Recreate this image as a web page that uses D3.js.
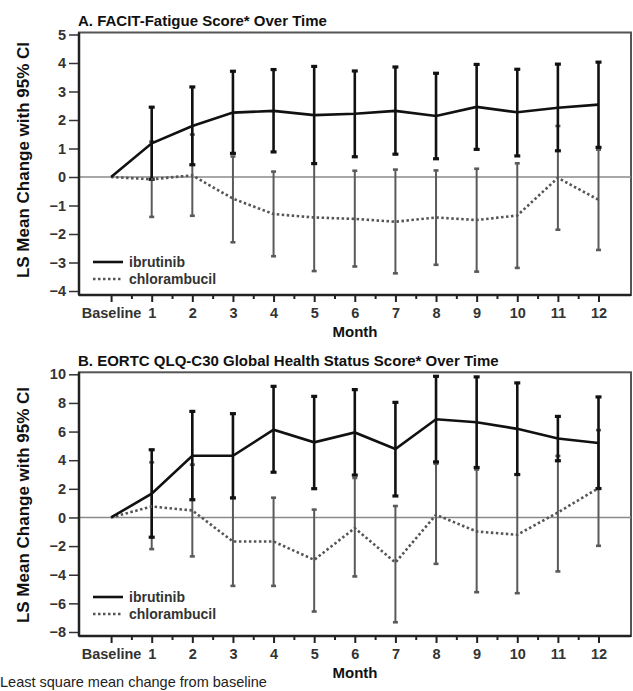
<!DOCTYPE html>
<html>
<head>
<meta charset="utf-8">
<script src="https://cdnjs.cloudflare.com/ajax/libs/d3/7.8.5/d3.min.js"></script>
<style>
body { margin: 0; background: #fff; }
svg { display: block; font-family: Arial, "Liberation Sans", sans-serif; }
</style>
</head>
<body>
<div id="chart"></div>
<script>
// months on the x axis, baseline = 0
var months = [0, 1, 2, 3, 4, 5, 6, 7, 8, 9, 10, 11, 12];
var monthLabels = ["Baseline", "1", "2", "3", "4", "5", "6", "7", "8", "9", "10", "11", "12"];

// A. FACIT-Fatigue
var facitIbrMean = [0, 1.18, 1.79, 2.26, 2.32, 2.17, 2.22, 2.32, 2.14, 2.46, 2.27, 2.43, 2.54];
var facitIbrHigh = [null, 2.45, 3.16, 3.71, 3.77, 3.88, 3.72, 3.86, 3.64, 3.95, 3.78, 3.96, 4.03];
var facitIbrLow = [null, -0.08, 0.43, 0.83, 0.88, 0.47, 0.71, 0.80, 0.64, 0.97, 0.74, 0.92, 1.04];
var facitChlMean = [0, -0.08, 0.06, -0.76, -1.30, -1.42, -1.47, -1.57, -1.42, -1.51, -1.35, -0.03, -0.80];
var facitChlHigh = [null, 1.24, 1.49, 0.72, 0.19, 0.48, 0.22, 0.26, 0.23, 0.29, 0.48, 1.79, 0.96];
var facitChlLow = [null, -1.40, -1.36, -2.29, -2.78, -3.30, -3.14, -3.38, -3.08, -3.32, -3.19, -1.85, -2.56];
var facitTicks = [-4, -3, -2, -1, 0, 1, 2, 3, 4, 5];

// B. EORTC QLQ-C30 global health status
var eortcIbrMean = [0, 1.66, 4.31, 4.31, 6.13, 5.25, 5.94, 4.78, 6.86, 6.65, 6.19, 5.52, 5.20];
var eortcIbrHigh = [null, 4.73, 7.41, 7.25, 9.16, 8.46, 8.93, 8.04, 9.86, 9.82, 9.40, 7.06, 8.42];
var eortcIbrLow = [null, -1.38, 1.24, 1.37, 3.16, 2.01, 2.96, 1.50, 3.88, 3.49, 3.00, 3.96, 2.02];
var eortcChlMean = [0, 0.77, 0.49, -1.68, -1.68, -2.96, -0.74, -3.15, 0.19, -0.98, -1.21, 0.35, 2.05];
var eortcChlHigh = [null, 3.85, 3.69, 1.35, 1.38, 0.55, 2.76, 0.80, 3.75, 3.35, 3.00, 4.30, 6.10];
var eortcChlLow = [null, -2.21, -2.72, -4.78, -4.78, -6.57, -4.12, -7.32, -3.24, -5.22, -5.29, -3.77, -1.98];
var eortcTicks = [-8, -6, -4, -2, 0, 2, 4, 6, 8, 10];

var seriesNames = ["ibrutinib", "chlorambucil"];

var svg = d3.select("#chart").append("svg")
    .attr("width", 633)
    .attr("height", 691);

var left = 79, right = 631;
var x = d3.scaleLinear().domain([-0.79, 12.8]).range([left, right]);

function errorBars(g, y, high, low, color, width, capW) {
    var rows = [];
    for (var i = 0; i < months.length; i++) {
        if (high[i] !== null) {
            rows.push({m: months[i], hi: high[i], lo: low[i]});
        }
    }
    var bars = g.append("g");
    bars.selectAll(".bar")
        .data(rows)
        .enter().append("line")
        .attr("x1", function (d) { return x(d.m); })
        .attr("x2", function (d) { return x(d.m); })
        .attr("y1", function (d) { return y(d.lo); })
        .attr("y2", function (d) { return y(d.hi); })
        .attr("stroke", color)
        .attr("stroke-width", width);
    ["hi", "lo"].forEach(function (k) {
        bars.selectAll(".cap-" + k)
            .data(rows)
            .enter().append("line")
            .attr("x1", function (d) { return x(d.m) - capW / 2; })
            .attr("x2", function (d) { return x(d.m) + capW / 2; })
            .attr("y1", function (d) { return y(d[k]); })
            .attr("y2", function (d) { return y(d[k]); })
            .attr("stroke", color)
            .attr("stroke-width", width + 0.6);
    });
}

function drawPanel(p) {
    var y = d3.scaleLinear().domain(p.yDomain).range([p.bottom, p.top]);
    var g = svg.append("g");

    g.append("text")
        .attr("x", 78)
        .attr("y", p.titleY)
        .attr("font-size", 15)
        .attr("font-weight", "bold")
        .attr("fill", "#111")
        .text(p.title);

    // frame
    g.append("rect")
        .attr("x", left)
        .attr("y", p.top)
        .attr("width", right - left)
        .attr("height", p.bottom - p.top)
        .attr("fill", "none")
        .attr("stroke", "#555")
        .attr("stroke-width", 2);

    // reference line at zero
    g.append("line")
        .attr("x1", left).attr("x2", right)
        .attr("y1", y(0)).attr("y2", y(0))
        .attr("stroke", "#8a8a8a")
        .attr("stroke-width", 1.5);

    // y axis
    var yAxis = d3.axisLeft(y)
        .tickValues(p.yTicks)
        .tickSize(10)
        .tickPadding(3)
        .tickFormat(d3.format("d"));
    var ya = g.append("g")
        .attr("transform", "translate(" + left + ",0)")
        .call(yAxis);
    ya.select(".domain").remove();
    ya.selectAll("line").attr("stroke", "#333").attr("stroke-width", 1.5);
    ya.selectAll("text")
        .attr("font-size", 14.5)
        .attr("font-weight", "bold")
        .attr("fill", "#333")
        .attr("font-family", null);

    // x axis, major + minor ticks
    var xAxis = d3.axisBottom(x)
        .tickValues(months)
        .tickSize(7)
        .tickPadding(6)
        .tickFormat(function (d, i) { return monthLabels[i]; });
    var xa = g.append("g")
        .attr("transform", "translate(0," + p.bottom + ")")
        .call(xAxis);
    xa.select(".domain").remove();
    xa.selectAll("line").attr("stroke", "#222").attr("stroke-width", 2);
    xa.selectAll("text")
        .attr("font-size", 14.5)
        .attr("font-weight", "bold")
        .attr("fill", "#333")
        .attr("font-family", null);

    var xMinor = d3.axisBottom(x)
        .tickValues(d3.range(0.5, 12, 1))
        .tickSize(4)
        .tickFormat("");
    var xm = g.append("g")
        .attr("transform", "translate(0," + p.bottom + ")")
        .call(xMinor);
    xm.select(".domain").remove();
    xm.selectAll("line").attr("stroke", "#222").attr("stroke-width", 2);

    // left and bottom axis lines, darker than frame
    g.append("line")
        .attr("x1", left).attr("x2", left)
        .attr("y1", p.top).attr("y2", p.bottom)
        .attr("stroke", "#222").attr("stroke-width", 2.5);
    g.append("line")
        .attr("x1", left).attr("x2", right)
        .attr("y1", p.bottom).attr("y2", p.bottom)
        .attr("stroke", "#222").attr("stroke-width", 2.5);

    // error bars: chlorambucil under ibrutinib
    errorBars(g, y, p.chlHigh, p.chlLow, "#5a5a5a", 2, 5);
    errorBars(g, y, p.ibrHigh, p.ibrLow, "#111", 2.6, 6);

    var line = d3.line()
        .x(function (d, i) { return x(months[i]); })
        .y(function (d) { return y(d); });

    g.append("path")
        .attr("d", line(p.chlMean))
        .attr("fill", "none")
        .attr("stroke", "#555")
        .attr("stroke-width", 2.6)
        .attr("stroke-dasharray", "2.5,2.5");
    g.append("path")
        .attr("d", line(p.ibrMean))
        .attr("fill", "none")
        .attr("stroke", "#111")
        .attr("stroke-width", 2.6);

    // legend
    var leg = g.append("g");
    seriesNames.forEach(function (name, i) {
        var ly = p.legendY + i * 17;
        leg.append("line")
            .attr("x1", 93).attr("x2", 123)
            .attr("y1", ly).attr("y2", ly)
            .attr("stroke", i === 0 ? "#111" : "#555")
            .attr("stroke-width", i === 0 ? 2.6 : 2.4)
            .attr("stroke-dasharray", i === 0 ? null : "2.5,2.5");
        leg.append("text")
            .attr("x", 129)
            .attr("y", ly + 5)
            .attr("font-size", 14)
            .attr("font-weight", "bold")
            .attr("fill", "#333")
            .text(name);
    });

    // axis titles
    g.append("text")
        .attr("x", (left + right) / 2)
        .attr("y", p.bottom + 42)
        .attr("text-anchor", "middle")
        .attr("font-size", 15)
        .attr("font-weight", "bold")
        .attr("fill", "#111")
        .text("Month");

    g.append("text")
        .attr("transform", "translate(29," + p.labelY + ") rotate(-90)")
        .attr("text-anchor", "middle")
        .attr("font-size", 17)
        .attr("font-weight", "bold")
        .attr("fill", "#111")
        .text("LS Mean Change with 95% CI");
}

drawPanel({
    title: "A. FACIT-Fatigue Score* Over Time",
    titleY: 26,
    top: 32.5,
    bottom: 295,
    yDomain: [-4.14, 5.07],
    yTicks: facitTicks,
    legendY: 262,
    labelY: 160,
    ibrMean: facitIbrMean, ibrHigh: facitIbrHigh, ibrLow: facitIbrLow,
    chlMean: facitChlMean, chlHigh: facitChlHigh, chlLow: facitChlLow
});

drawPanel({
    title: "B. EORTC QLQ-C30 Global Health Status Score* Over Time",
    titleY: 366,
    top: 372.3,
    bottom: 636,
    yDomain: [-8.28, 10.14],
    yTicks: eortcTicks,
    legendY: 597,
    labelY: 505,
    ibrMean: eortcIbrMean, ibrHigh: eortcIbrHigh, ibrLow: eortcIbrLow,
    chlMean: eortcChlMean, chlHigh: eortcChlHigh, chlLow: eortcChlLow
});

svg.append("text")
    .attr("x", 0)
    .attr("y", 687)
    .attr("font-size", 14.5)
    .attr("fill", "#222")
    .text("Least square mean change from baseline");
</script>
</body>
</html>
